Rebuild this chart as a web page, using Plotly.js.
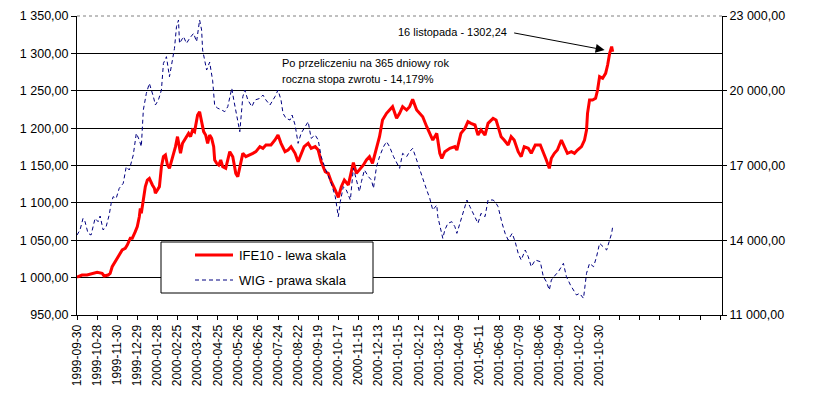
<!DOCTYPE html>
<html>
<head>
<meta charset="utf-8">
<script src="https://cdn.plot.ly/plotly-3.0.1.min.js"></script>
<style>
  body { margin: 0; background: #fff; }
  #chart { width: 815px; height: 419px; }
</style>
</head>
<body>
<div id="chart"></div>
<script>
// trading-day index (0 = 1999-09-30) and IFE10 value, left scale
var ifeDay = [0,5,10,15,20,25,27,31,33,35,38,40,43,45,48,50,53,55,58,60,62,63,64,65,66,68,70,72,75,77,78,80,82,84,86,88,90,92,95,98,
  100,102,103,105,107,109,111,113,115,117,118,120,122,124,126,128,130,132,134,136,137,139,141,143,145,148,152,155,158,160,
  163,165,168,172,175,178,182,185,188,193,197,200,203,207,210,213,217,220,223,226,230,233,237,240,243,247,250,253,257,260,
  263,266,270,273,275,278,281,285,288,291,294,298,301,304,308,311,314,318,321,324,328,331,334,338,341,344,348,351,354,358,
  361,363,366,371,376,378,382,386,389,392,396,399,402,406,409,414,417,419,422,425,429,432,435,439,442,445,449,452,456,461,
  464,467,470,472,475,478,482,485,488,492,495,498,502,505,507,508,510,513,516,518,520,523,526,528,530,532,533];
var ifeVal = [1000.5,1003.5,1003.5,1005.7,1007.1,1005.7,1002.2,1003.5,1005.7,1014.6,1021.3,1025.8,1032.5,1037.0,1039.2,1043.6,1052.6,1052.6,1061.5,1068.2,
  1081.5,1092.7,1086.0,1094.9,1108.3,1121.7,1130.6,1132.8,1124.0,1119.5,1112.8,1117.2,1121.7,1148.4,1161.8,1164.0,1150.7,1146.2,1159.6,1175.2,
  1188.6,1173.0,1166.3,1179.7,1184.1,1188.6,1193.0,1188.6,1197.5,1195.3,1202.0,1217.6,1222.0,1208.6,1195.3,1190.8,1179.7,1190.8,1186.3,1175.2,
  1157.4,1152.9,1150.7,1157.4,1148.4,1146.2,1168.5,1161.8,1139.5,1135.0,1152.9,1166.3,1161.8,1164.0,1166.3,1168.5,1175.2,1173.0,1177.4,1177.4,
  1184.1,1190.8,1179.7,1168.5,1170.7,1175.2,1166.3,1155.1,1164.0,1175.2,1179.7,1173.0,1175.2,1170.7,1155.1,1141.7,1139.5,1128.4,1117.2,1107.4,
  1121.7,1130.6,1124.0,1144.0,1153.8,1139.5,1144.0,1150.7,1157.4,1161.8,1152.9,1175.2,1188.6,1210.9,1219.8,1224.2,1228.7,1213.1,1219.8,1228.7,
  1224.2,1228.7,1238.5,1224.2,1219.8,1215.3,1201.9,1193.0,1184.1,1193.0,1166.3,1159.6,1168.5,1173.0,1175.2,1170.7,1193.0,1199.7,1208.6,1206.4,
  1204.2,1190.8,1197.5,1190.8,1206.4,1213.1,1210.9,1202.0,1188.6,1184.1,1177.4,1188.6,1184.1,1168.5,1161.8,1175.2,1173.0,1166.3,1177.4,1177.4,
  1168.5,1157.4,1146.2,1159.6,1166.3,1170.7,1184.1,1175.2,1166.3,1168.5,1166.3,1170.7,1175.2,1184.1,1197.5,1219.8,1237.6,1237.6,1239.8,1251.0,
  1268.8,1266.6,1273.3,1284.4,1300.0,1309.0,1302.24];

// trading-day index and WIG value, right scale
var wigDay = [0,3,6,8,11,14,18,21,23,26,29,32,34,36,39,42,46,49,52,56,59,62,64,66,69,72,76,78,81,84,86,89,92,94,97,99,101,102,106,109,
  112,116,119,122,124,125,129,132,135,137,140,144,147,150,154,156,159,162,165,167,170,174,177,182,185,188,192,197,200,203,
  205,208,212,214,217,220,223,227,230,233,237,240,243,247,250,253,257,260,262,265,268,272,275,278,281,283,286,290,293,295,
  298,301,305,308,311,315,318,321,324,328,331,334,338,341,344,348,351,354,358,359,361,364,366,369,373,376,378,381,384,388,
  391,394,399,402,406,409,414,416,419,423,426,429,433,436,439,442,446,449,452,456,461,464,467,470,472,476,479,484,487,491,
  494,497,500,504,507,510,514,517,520,524,527,530,532,533];
var wigVal = [14210,14411,14879,14745,14277,14210,14879,14745,14973,14411,14545,15013,15481,15749,15682,16083,16284,16952,16819,17421,
  18290,18023,17755,19227,19895,20297,19762,19427,19628,20029,21099,21367,20564,21033,21701,22571,22838,21902,22170,21902,
  22103,22303,21969,22838,22437,21634,20832,21150,20400,19400,19300,19227,19160,19360,20096,19628,18959,18357,19762,20029,
  19628,19360,19628,19695,19829,19628,19427,19762,20029,19628,19093,18892,18825,19026,18627,17889,18290,18558,18759,18090,
  18224,18023,17354,16886,16551,16284,15749,14946,15547,16150,16016,15615,16900,16400,15949,16350,16819,16551,16417,16083,
  16952,17354,17755,17956,17755,17354,17086,16886,17488,17354,17555,17688,17220,16819,16484,16016,15682,15213,15414,14946,
  14545,14077,14411,14678,14745,14545,14277,14678,15080,15615,15347,15080,14678,15080,14946,15615,15615,15548,15347,14678,
  14277,14010,14277,13943,13475,13207,13608,13341,12939,13207,13140,12538,12338,12003,12404,12605,12739,13073,12538,12203,
  12003,11802,11869,11669,12672,13073,12939,13341,13876,13742,13608,14010,14277,14545];

// category labels, one every 20 trading days
var tickDates = ['1999-09-30','1999-10-28','1999-11-30','1999-12-29','2000-01-28','2000-02-25','2000-03-24',
  '2000-04-25','2000-05-26','2000-06-26','2000-07-24','2000-08-22','2000-09-19','2000-10-17','2000-11-15',
  '2000-12-13','2001-01-15','2001-02-12','2001-03-12','2001-04-09','2001-05-11','2001-06-08','2001-07-09',
  '2001-08-06','2001-09-04','2001-10-02','2001-10-30'];
var tickStep = 20;
var tickCount = 33;

var tickVals = [];
var tickText = [];
for (var k = 0; k < tickCount; k++) {
  tickVals.push(k * tickStep);
  tickText.push(tickDates[k] || '');
}

// plot area in pixels: left 77, right 722, top 16, bottom 315
var L = 77, T = 16, W = 645, H = 299;
function px(x) { return (x - L) / W; }
function py(y) { return (T + H - y) / H; }

var FONT = 'Liberation Sans, Arial, sans-serif';

var data = [
  {
    type: 'scatter',
    mode: 'lines',
    name: 'IFE10 - lewa skala',
    x: ifeDay,
    y: ifeVal,
    line: { color: '#ff0000', width: 3 },
    hoverinfo: 'skip'
  },
  {
    type: 'scatter',
    mode: 'lines',
    name: 'WIG - prawa skala',
    x: wigDay,
    y: wigVal,
    yaxis: 'y2',
    line: { color: '#000080', width: 1, dash: '4px,3px' },
    hoverinfo: 'skip'
  }
];

var layout = {
  width: 815,
  height: 419,
  margin: { l: L, r: 815 - L - W, t: T, b: 419 - T - H, pad: 0 },
  paper_bgcolor: '#ffffff',
  plot_bgcolor: '#ffffff',
  showlegend: false,
  separators: ', ',
  font: { family: FONT, color: '#000000', size: 12 },
  xaxis: {
    range: [0, 641.8],
    tickmode: 'array',
    tickvals: tickVals,
    ticktext: tickText,
    tickangle: -90,
    ticks: 'outside',
    ticklen: 4,
    tickcolor: '#000000',
    showline: true,
    linecolor: '#000000',
    linewidth: 1,
    showgrid: false,
    zeroline: false,
    tickfont: { family: FONT, size: 12, color: '#000000' }
  },
  yaxis: {
    range: [950, 1350],
    tick0: 950,
    dtick: 50,
    tickformat: ',.2f',
    ticks: 'outside',
    ticklen: 5,
    tickcolor: '#000000',
    showline: true,
    linecolor: '#000000',
    linewidth: 1,
    showgrid: true,
    gridcolor: '#000000',
    gridwidth: 1,
    zeroline: false,
    tickfont: { family: FONT, size: 12.5, color: '#000000' }
  },
  yaxis2: {
    overlaying: 'y',
    side: 'right',
    range: [11000, 23000],
    tick0: 11000,
    dtick: 3000,
    tickformat: ',.2f',
    ticks: 'outside',
    ticklen: 4,
    tickcolor: '#000000',
    showline: true,
    linecolor: '#000000',
    linewidth: 1,
    showgrid: false,
    zeroline: false,
    tickfont: { family: FONT, size: 12.5, color: '#000000' }
  },
  shapes: [
    // dotted top border of the plot area
    { type: 'line', xref: 'paper', yref: 'paper', x0: 0, x1: 1, y0: 1, y1: 1,
      line: { color: '#808080', width: 1, dash: 'dot' } },
    // legend box
    { type: 'rect', xref: 'paper', yref: 'paper', layer: 'above',
      x0: px(161), x1: px(373), y0: py(293), y1: py(242),
      fillcolor: '#ffffff', line: { color: '#000000', width: 1 } },
    { type: 'line', xref: 'paper', yref: 'paper', layer: 'above',
      x0: px(195), x1: px(233), y0: py(255), y1: py(255),
      line: { color: '#ff0000', width: 3 } },
    { type: 'line', xref: 'paper', yref: 'paper', layer: 'above',
      x0: px(195), x1: px(233), y0: py(280), y1: py(280),
      line: { color: '#000080', width: 1, dash: '4px,3px' } }
  ],
  annotations: [
    { xref: 'paper', yref: 'paper', x: px(237), y: py(255), xanchor: 'left', yanchor: 'middle',
      text: 'IFE10 - lewa skala', showarrow: false, font: { family: FONT, size: 13, color: '#000000' } },
    { xref: 'paper', yref: 'paper', x: px(237), y: py(280), xanchor: 'left', yanchor: 'middle',
      text: 'WIG - prawa skala', showarrow: false, font: { family: FONT, size: 13, color: '#000000' } },
    { xref: 'x', yref: 'y', x: 429.6, y: 1328.6, xanchor: 'right', yanchor: 'middle',
      text: '16 listopada - 1302,24', showarrow: false, font: { family: FONT, size: 11, color: '#000000' } },
    { xref: 'x', yref: 'y', x: 525, y: 1304.5, axref: 'x', ayref: 'y', ax: 433.5, ay: 1327.7,
      text: '', showarrow: true, arrowhead: 2, arrowsize: 1.8, arrowwidth: 1, arrowcolor: '#000000' },
    { xref: 'x', yref: 'y', x: 202.4, y: 1287.1, xanchor: 'left', yanchor: 'middle',
      text: 'Po przeliczeniu na 365 dniowy rok', showarrow: false, font: { family: FONT, size: 11, color: '#000000' } },
    { xref: 'x', yref: 'y', x: 202.4, y: 1265.7, xanchor: 'left', yanchor: 'middle',
      text: 'roczna stopa zwrotu - 14,179%', showarrow: false, font: { family: FONT, size: 11, color: '#000000' } }
  ]
};

Plotly.newPlot(document.getElementById('chart'), data, layout, { displayModeBar: false, staticPlot: true });
</script>
</body>
</html>
